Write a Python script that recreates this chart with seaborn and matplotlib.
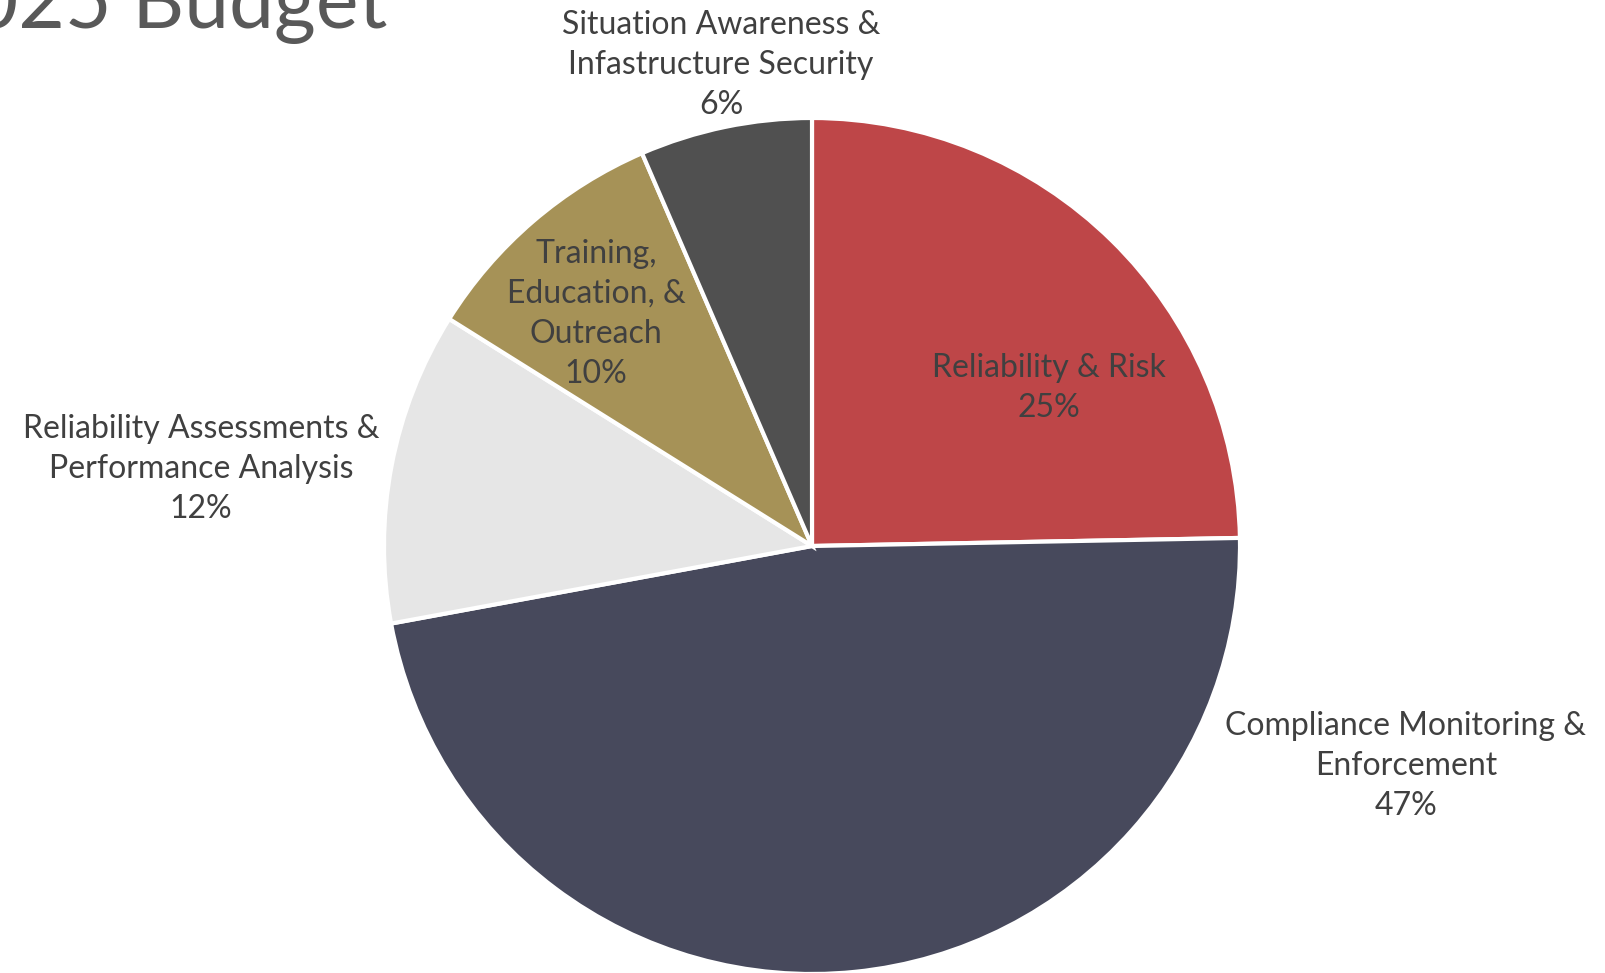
import matplotlib
matplotlib.use("Agg")
import matplotlib.pyplot as plt
import seaborn as sns

categories = [
    "Reliability & Risk",
    "Compliance Monitoring &\nEnforcement",
    "Reliability Assessments &\nPerformance Analysis",
    "Training,\nEducation, &\nOutreach",
    "Situation Awareness &\nInfastructure Security",
]
shares = [24.7, 47.4, 11.8, 9.6, 6.5]
pct_labels = ["25%", "47%", "12%", "10%", "6%"]
colors = ["#BE4648", "#47495C", "#E6E6E6", "#A69257", "#505050"]

sns.set_theme(style="white")
plt.rcParams["font.family"] = ["Lato", "DejaVu Sans"]

W, H = 1606, 973
fig = plt.figure(figsize=(W / 100, H / 100), dpi=100)
ax = fig.add_axes([0, 0, 1, 1])

cx, cy, r = 812, H - 546, 428
ax.pie(shares, colors=colors, startangle=90, counterclock=False,
       center=(cx, cy), radius=r,
       wedgeprops=dict(edgecolor="white", linewidth=3), frame=True)
ax.set_xlim(0, W)
ax.set_ylim(0, H)
ax.set_aspect("equal")
ax.axis("off")

# label positions in pixel coords (from top)
label_pos = [(1049, 388), (1406, 766), (201, 469), (596, 314), (721, 65)]
for cat, pct, (x, y) in zip(categories, pct_labels, label_pos):
    ax.text(x, H - y, f"{cat}\n{pct}", ha="center", va="center",
            fontsize=23, fontweight="normal", color="#404040",
            linespacing=1.42)

ax.text(387, H - 28, "2025 Budget", ha="right", va="baseline",
        fontsize=58, fontweight="normal", color="#595959")

fig.savefig("out.png", dpi=100)
